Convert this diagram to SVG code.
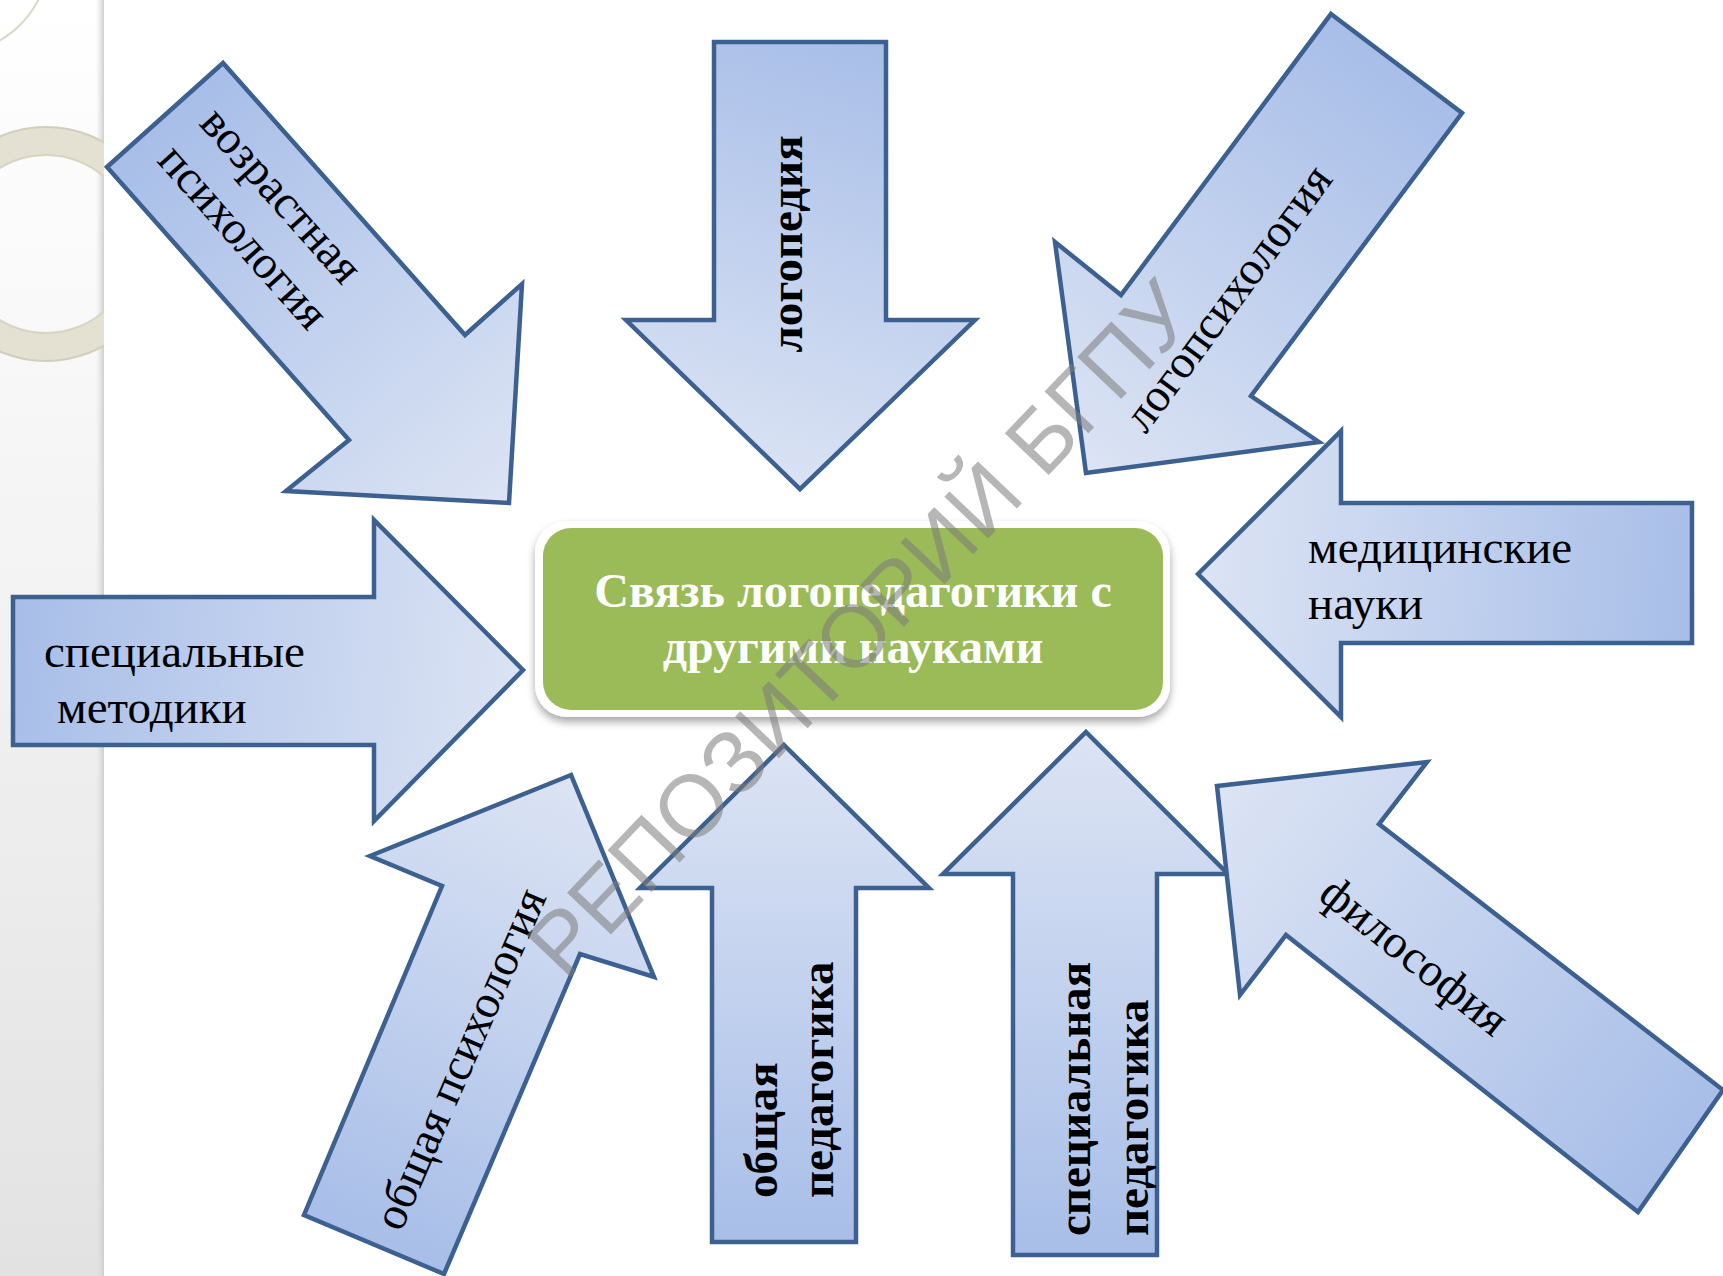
<svg xmlns="http://www.w3.org/2000/svg" width="1723" height="1276" viewBox="0 0 1723 1276">
<style>
.arrow{stroke:#3c6090;stroke-width:4.5;stroke-linejoin:miter}
.t{font-family:"Liberation Serif","Times New Roman",serif;font-size:47px;fill:#000}
.b{font-weight:bold}
.title{font-family:"Liberation Serif","Times New Roman",serif;font-size:48px;font-weight:bold;fill:#fff;text-anchor:middle}
.wm{font-family:"Liberation Sans",Arial,sans-serif;font-size:88px;fill:#7a7a7a;fill-opacity:0.55;text-anchor:middle}
</style>
<defs>
<linearGradient id="strip" x1="0" y1="0" x2="0" y2="1">
<stop offset="0" stop-color="#ffffff"/>
<stop offset="0.35" stop-color="#f6f6f6"/>
<stop offset="1" stop-color="#e2e2e2"/>
</linearGradient>
<linearGradient id="edge" x1="0" y1="0" x2="1" y2="0">
<stop offset="0" stop-color="#dcdcdc" stop-opacity="0"/>
<stop offset="1" stop-color="#cfcfcf"/>
</linearGradient>
<linearGradient id="g1" gradientUnits="userSpaceOnUse" x1="165" y1="115" x2="509" y2="503"><stop offset="0" stop-color="#a8bee8"/><stop offset="1" stop-color="#dce4f4"/></linearGradient>
<linearGradient id="g2" gradientUnits="userSpaceOnUse" x1="880" y1="42" x2="740" y2="489"><stop offset="0" stop-color="#a8bee8"/><stop offset="1" stop-color="#dce4f4"/></linearGradient>
<linearGradient id="g3" gradientUnits="userSpaceOnUse" x1="1396" y1="63" x2="1086" y2="473"><stop offset="0" stop-color="#a8bee8"/><stop offset="1" stop-color="#dce4f4"/></linearGradient>
<linearGradient id="g4" gradientUnits="userSpaceOnUse" x1="1692" y1="600" x2="1198" y2="560"><stop offset="0" stop-color="#a8bee8"/><stop offset="1" stop-color="#dce4f4"/></linearGradient>
<linearGradient id="g5" gradientUnits="userSpaceOnUse" x1="13" y1="640" x2="523" y2="700"><stop offset="0" stop-color="#a8bee8"/><stop offset="1" stop-color="#dce4f4"/></linearGradient>
<linearGradient id="g7" gradientUnits="userSpaceOnUse" x1="374" y1="1245" x2="571" y2="775"><stop offset="0" stop-color="#a8bee8"/><stop offset="1" stop-color="#dce4f4"/></linearGradient>
<linearGradient id="g8" gradientUnits="userSpaceOnUse" x1="784" y1="1242" x2="784" y2="745"><stop offset="0" stop-color="#a8bee8"/><stop offset="1" stop-color="#dce4f4"/></linearGradient>
<linearGradient id="g9" gradientUnits="userSpaceOnUse" x1="1085" y1="1255" x2="1086" y2="732"><stop offset="0" stop-color="#a8bee8"/><stop offset="1" stop-color="#dce4f4"/></linearGradient>
<linearGradient id="g10" gradientUnits="userSpaceOnUse" x1="1680" y1="1151" x2="1217" y2="786"><stop offset="0" stop-color="#a8bee8"/><stop offset="1" stop-color="#dce4f4"/></linearGradient>
<filter id="sh" x="-10%" y="-20%" width="120%" height="150%">
<feGaussianBlur in="SourceAlpha" stdDeviation="4"/>
<feOffset dx="0" dy="5" result="o"/>
<feComponentTransfer><feFuncA type="linear" slope="0.35"/></feComponentTransfer>
<feMerge><feMergeNode/><feMergeNode in="SourceGraphic"/></feMerge>
</filter>
<clipPath id="stripClip"><rect x="0" y="0" width="104" height="1276"/></clipPath>
</defs>
<rect x="0" y="0" width="1723" height="1276" fill="#ffffff"/>
<g id="background">
<rect x="0" y="0" width="104" height="1276" fill="url(#strip)"/>
<rect x="96" y="0" width="8" height="1276" fill="url(#edge)"/>
<g clip-path="url(#stripClip)">
<circle cx="-50" cy="-45" r="99" fill="none" stroke="#dcd8c6" stroke-width="2"/>
<circle cx="46" cy="244" r="103" fill="none" stroke="#e4e1d3" stroke-width="28"/>
<circle cx="46" cy="244" r="117" fill="none" stroke="#d2cebd" stroke-width="2"/>
<circle cx="46" cy="244" r="89" fill="none" stroke="#d8d4c3" stroke-width="2"/>
</g>
</g>
<g id="connectors">
<g id="arrow-vozrastnaya">
<polygon class="arrow" fill="url(#g1)" points="223,63 107,167 349,440 286,491 509,503 522,284 465,335"/>
<g transform="translate(198,124) rotate(48.4)"><text class="t" x="0" y="0">возрастная</text><text class="t" x="0" y="56">психология</text></g>
</g>
<g id="arrow-logopediya">
<polygon class="arrow" fill="url(#g2)" points="714,42 886,42 886,320 975,320 800,489 626,320 714,320"/>
<text class="t b" text-anchor="middle" transform="translate(802,244) rotate(-90)">логопедия</text>
</g>
<g id="arrow-logopsihologiya">
<polygon class="arrow" fill="url(#g3)" points="1331,14 1462,113 1251,396 1319,442 1086,473 1055,242 1121,295"/>
<text class="t" text-anchor="middle" transform="translate(1240,307) rotate(-53.6)">логопсихология</text>
</g>
<g id="arrow-medicinskie">
<polygon class="arrow" fill="url(#g4)" points="1198,574 1341,431 1341,503 1692,503 1692,643 1341,643 1341,717"/>
<text class="t" x="1308" y="563">медицинские</text>
<text class="t" x="1308" y="619">науки</text>
</g>
<g id="arrow-specmetodiki">
<polygon class="arrow" fill="url(#g5)" points="13,597 374,597 374,520 523,670 374,821 374,745 13,745"/>
<text class="t" x="44" y="667">специальные</text>
<text class="t" x="57" y="723">методики</text>
</g>
<g id="arrow-obshpsih">
<polygon class="arrow" fill="url(#g7)" points="571,775 370,856 442,886 304,1215 444,1274 580,954 654,977"/>
<text class="t" text-anchor="middle" transform="translate(474,1065) rotate(-66.5)">общая психология</text>
</g>
<g id="arrow-obshped">
<polygon class="arrow" fill="url(#g8)" points="784,745 929,888 856,888 856,1242 712,1242 712,888 640,888"/>
<g transform="translate(777,1198) rotate(-90)"><text class="t b" x="0" y="0">общая</text><text class="t b" x="0" y="56">педагогика</text></g>
</g>
<g id="arrow-specped">
<polygon class="arrow" fill="url(#g9)" points="1086,732 1228,874 1157,874 1157,1255 1013,1255 1013,874 943,874"/>
<g transform="translate(1090,1236) rotate(-90)"><text class="t b" x="0" y="0">специальная</text><text class="t b" x="0" y="58">педагогика</text></g>
</g>
<g id="arrow-filosofiya">
<polygon class="arrow" fill="url(#g10)" points="1217,786 1427,762 1379,824 1723,1090 1638,1212 1286,935 1240,995"/>
<text class="t" text-anchor="middle" transform="translate(1405,968) rotate(38.4)">философия</text>
</g>
</g>
<g id="center-node">
<rect x="535" y="521" width="635" height="196" rx="32" fill="#ffffff" filter="url(#sh)"/>
<rect x="543" y="528" width="620" height="182" rx="28" fill="#9bbb59"/>
<text class="title" x="853" y="607">Связь логопедагогики с</text>
<text class="title" x="853" y="663">другими науками</text>
</g>
<text class="wm" transform="translate(882,650) rotate(-46.4)">РЕПОЗИТОРИЙ БГПУ</text>
</svg>
